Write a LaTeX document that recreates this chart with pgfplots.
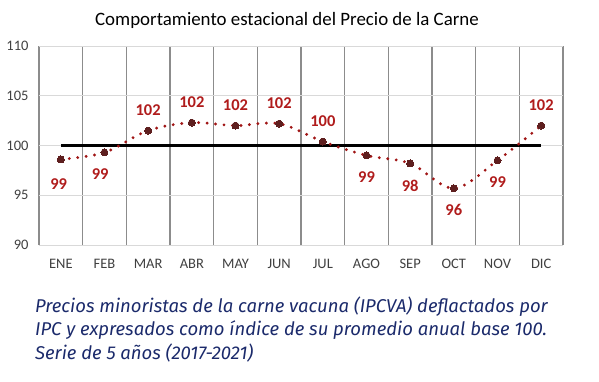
\documentclass[border=0pt]{standalone}
\usepackage{pgfplots}
\pgfplotsset{compat=1.18}
\usepackage{fontspec}
\setmainfont{Carlito}
\newfontfamily\capfont{Fira Sans}
\definecolor{vgrid}{HTML}{8C8C8C}
\definecolor{hgrid}{HTML}{D9D9D9}
\definecolor{ticktxt}{HTML}{404040}
\definecolor{lblred}{HTML}{B01C1C}
\definecolor{dotred}{HTML}{A01515}
\definecolor{markc}{HTML}{5E1F1F}
\definecolor{navy}{HTML}{1B2A6B}
\begin{document}
\begin{tikzpicture}
\useasboundingbox (-39pt,-136pt) rectangle (560pt,245pt);
\begin{axis}[
  at={(0,0)}, anchor=south west,
  scale only axis, width=524pt, height=199pt,
  xmin=-0.5, xmax=11.5, ymin=90, ymax=110,
  xtick={0,...,11},
  xticklabels={ENE,FEB,MAR,ABR,MAY,JUN,JUL,AGO,SEP,OCT,NOV,DIC},
  minor xtick={-0.5,0.5,...,11.5},
  ytick={90,95,...,110},
  xminorgrids=true, ymajorgrids=true,
  minor x grid style={vgrid, line width=1.3pt},
  major y grid style={hgrid, line width=1pt},
  axis line style={draw=none},
  major tick length=0pt, minor tick length=0pt,
  tick label style={font=\fontsize{14.5}{16}\selectfont, text=ticktxt},
  /pgf/number format/assume math mode=true,
  yticklabel style={xshift=-7pt},
  xticklabel style={yshift=-11pt},
  clip=false,
]
\addplot[black, line width=2.8pt] coordinates {(0,100) (11,100)};
\addplot[dotred, line width=3.2pt, line cap=round, dash pattern=on 0pt off 8.5pt, smooth, tension=0.55,
  mark=*, mark size=3.5pt, mark options={solid, fill=markc, draw=markc, line width=0pt}]
  table[x=x, y=y] {
x y
0 98.6
1 99.3
2 101.5
3 102.3
4 102.0
5 102.2
6 100.4
7 99.0
8 98.2
9 95.7
10 98.5
11 102.0
};
\addplot[draw=none, mark=none, nodes near coords, point meta=explicit symbolic,
  every node near coord/.append style={anchor=center, yshift=20pt, text=lblred, font=\bfseries\fontsize{16.5}{18}\selectfont}]
  coordinates {(2,101.5)[102] (3,102.3)[102] (4,102.0)[102] (5,102.2)[102] (6,100.4)[100] (11,102.0)[102]};
\addplot[draw=none, mark=none, nodes near coords, point meta=explicit symbolic,
  every node near coord/.append style={anchor=center, yshift=-22pt, text=lblred, font=\bfseries\fontsize{16.5}{18}\selectfont}]
  coordinates {(-0.05,98.3)[99] (0.9,99.3)[99] (7,99.0)[99] (8,98.2)[98] (9,95.7)[96] (10,98.5)[99]};
\end{axis}
\node[anchor=base, font=\fontsize{18.9}{22}\selectfont, inner sep=0pt] at (248pt,220pt) {Comportamiento estacional del Precio de la Carne};
\begin{scope}[every node/.style={anchor=base west, inner sep=0pt, text=navy, font=\capfont\itshape\fontsize{18.5}{22}\selectfont}]
\node at (-4pt,-67pt) {Precios minoristas de la carne vacuna (IPCVA) deflactados por};
\node at (-4pt,-90.5pt) {IPC y expresados como índice de su promedio anual base 100.};
\node at (-4pt,-114.5pt) {Serie de 5 años (2017-2021)};
\end{scope}
\end{tikzpicture}
\end{document}
